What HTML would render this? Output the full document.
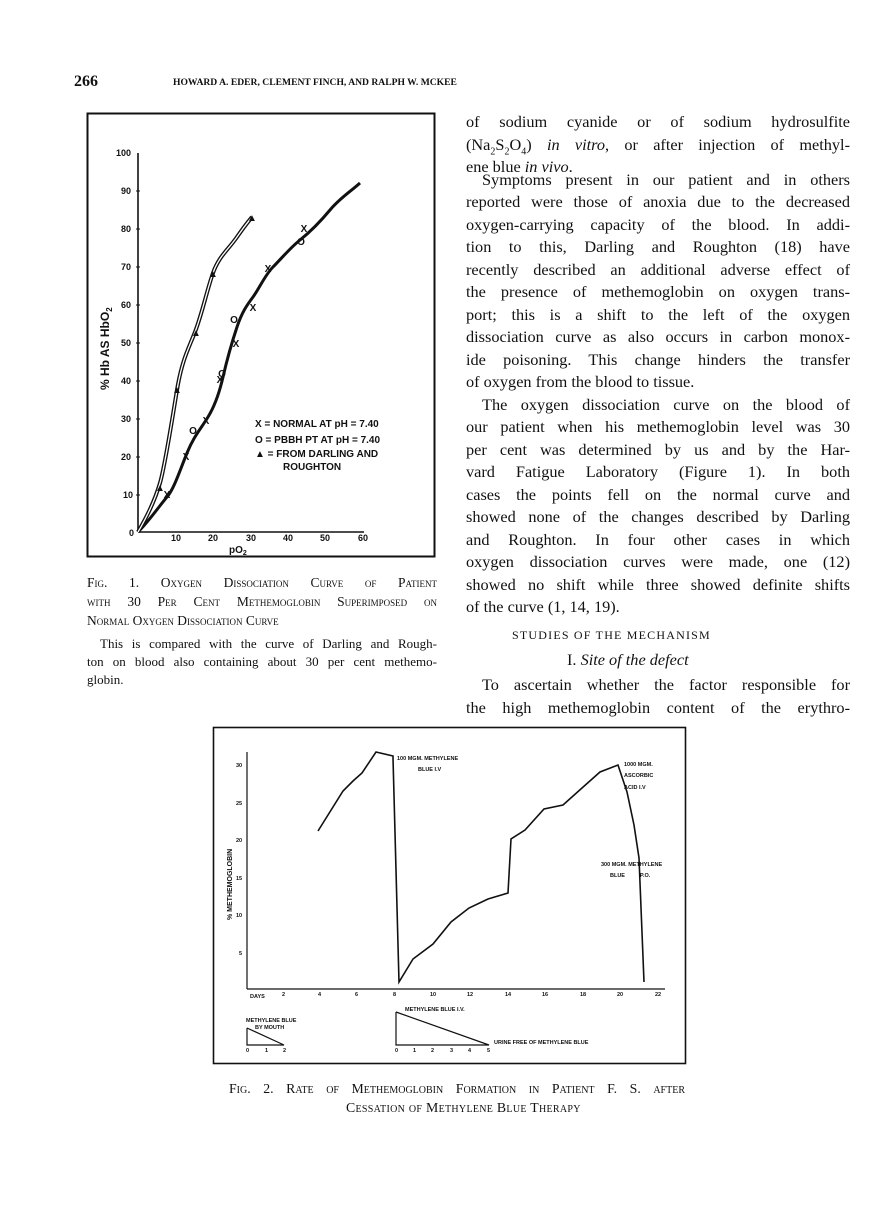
<!DOCTYPE html>
<html><head><meta charset="utf-8"><style>
body{margin:0;background:#fff;}
#p{position:relative;width:880px;height:1219px;background:#fff;overflow:hidden;font-family:"Liberation Serif",serif;color:#111;}
.l{position:absolute;white-space:nowrap;font-size:16.3px;line-height:18px;}
.j{width:384px;text-align:justify;text-align-last:justify;}
.sc{font-variant:small-caps;}
svg{position:absolute;left:0;top:0;}
svg text{font-family:"Liberation Sans",sans-serif;font-weight:bold;fill:#111;}
</style></head><body><div id="p">
<div class="l" style="left:74px;top:73px;font-weight:bold;font-size:16px">266</div>
<div class="l" style="left:173px;top:74px;font-size:9.6px;width:280px;text-align:justify;text-align-last:justify;font-weight:bold">HOWARD A. EDER, CLEMENT FINCH, AND RALPH W. MCKEE</div>

<div class="l j" style="left:466px;top:113px">of sodium cyanide or of sodium hydrosulfite</div>
<div class="l j" style="left:466px;top:136px">(Na<sub style="font-size:10px">2</sub>S<sub style="font-size:10px">2</sub>O<sub style="font-size:10px">4</sub>) <i>in vitro</i>, or after injection of methyl-</div>
<div class="l" style="left:466px;top:158px">ene blue <i>in vivo</i>.</div>
<div class="l j" style="left:482px;top:171px;width:368px">Symptoms present in our patient and in others</div>
<div class="l j" style="left:466px;top:193px">reported were those of anoxia due to the decreased</div>
<div class="l j" style="left:466px;top:216px">oxygen-carrying capacity of the blood. In addi-</div>
<div class="l j" style="left:466px;top:238px">tion to this, Darling and Roughton (18) have</div>
<div class="l j" style="left:466px;top:261px">recently described an additional adverse effect of</div>
<div class="l j" style="left:466px;top:283px">the presence of methemoglobin on oxygen trans-</div>
<div class="l j" style="left:466px;top:306px">port; this is a shift to the left of the oxygen</div>
<div class="l j" style="left:466px;top:328px">dissociation curve as also occurs in carbon monox-</div>
<div class="l j" style="left:466px;top:351px">ide poisoning. This change hinders the transfer</div>
<div class="l" style="left:466px;top:373px">of oxygen from the blood to tissue.</div>
<div class="l j" style="left:482px;top:396px;width:368px">The oxygen dissociation curve on the blood of</div>
<div class="l j" style="left:466px;top:418px">our patient when his methemoglobin level was 30</div>
<div class="l j" style="left:466px;top:441px">per cent was determined by us and by the Har-</div>
<div class="l j" style="left:466px;top:463px">vard Fatigue Laboratory (Figure 1). In both</div>
<div class="l j" style="left:466px;top:486px">cases the points fell on the normal curve and</div>
<div class="l j" style="left:466px;top:508px">showed none of the changes described by Darling</div>
<div class="l j" style="left:466px;top:531px">and Roughton. In four other cases in which</div>
<div class="l j" style="left:466px;top:553px">oxygen dissociation curves were made, one (12)</div>
<div class="l j" style="left:466px;top:576px">showed no shift while three showed definite shifts</div>
<div class="l" style="left:466px;top:598px">of the curve (1, 14, 19).</div>
<div class="l" style="left:512px;top:626px;font-size:12px;letter-spacing:1.2px">STUDIES OF THE MECHANISM</div>
<div class="l" style="left:567px;top:651px">I. <i>Site of the defect</i></div>
<div class="l j" style="left:482px;top:676px;width:368px">To ascertain whether the factor responsible for</div>
<div class="l j" style="left:466px;top:699px">the high methemoglobin content of the erythro-</div>

<div class="l sc" style="left:87px;top:574px;font-size:13.5px;width:350px;text-align:justify;text-align-last:justify">Fig. 1. Oxygen Dissociation Curve of Patient</div>
<div class="l sc" style="left:87px;top:593px;font-size:13.5px;width:350px;text-align:justify;text-align-last:justify">with 30 Per Cent Methemoglobin Superimposed on</div>
<div class="l sc" style="left:87px;top:612px;font-size:13.5px">Normal Oxygen Dissociation Curve</div>
<div class="l" style="left:100px;top:635px;font-size:13px;width:337px;text-align:justify;text-align-last:justify">This is compared with the curve of Darling and Rough-</div>
<div class="l" style="left:87px;top:653px;font-size:13px;width:350px;text-align:justify;text-align-last:justify">ton on blood also containing about 30 per cent methemo-</div>
<div class="l" style="left:87px;top:671px;font-size:13px">globin.</div>

<div class="l sc" style="left:229px;top:1080px;font-size:13.8px;width:456px;text-align:justify;text-align-last:justify">Fig. 2. Rate of Methemoglobin Formation in Patient F. S. after</div>
<div class="l sc" style="left:346px;top:1099px;font-size:13.8px;letter-spacing:0.3px">Cessation of Methylene Blue Therapy</div>

<svg width="880" height="1219" viewBox="0 0 880 1219">
<rect x="87.5" y="113.5" width="347" height="443" fill="none" stroke="#111" stroke-width="2"/>
<line x1="138" y1="532" x2="138" y2="153" stroke="#111" stroke-width="1.6"/>
<line x1="138" y1="532" x2="364" y2="532" stroke="#111" stroke-width="1.6"/>
<g font-size="9">
<text x="116" y="156">100</text><text x="121" y="194">90</text><text x="121" y="232">80</text><text x="121" y="270">70</text><text x="121" y="308">60</text><text x="121" y="346">50</text><text x="121" y="384">40</text><text x="121" y="422">30</text><text x="121" y="460">20</text><text x="123" y="498">10</text><text x="129" y="536">0</text>
<text x="171" y="541">10</text><text x="208" y="541">20</text><text x="246" y="541">30</text><text x="283" y="541">40</text><text x="320" y="541">50</text><text x="358" y="541">60</text>
<text x="229" y="553" font-size="10">pO<tspan font-size="7" dy="2">2</tspan></text>
</g>
<g stroke="#111" stroke-width="1">
<line x1="136" y1="191" x2="140" y2="191"/><line x1="136" y1="229" x2="140" y2="229"/><line x1="136" y1="267" x2="140" y2="267"/><line x1="136" y1="305" x2="140" y2="305"/><line x1="136" y1="343" x2="140" y2="343"/><line x1="136" y1="381" x2="140" y2="381"/><line x1="136" y1="419" x2="140" y2="419"/><line x1="136" y1="457" x2="140" y2="457"/><line x1="136" y1="495" x2="140" y2="495"/>
</g>
<text transform="translate(109,390) rotate(-90)" font-size="12">% Hb AS HbO<tspan font-size="8" dy="3">2</tspan></text>
<path d="M138,532 C150,520 160,505 167,497 S180,470 187,453 S200,430 208,417 S220,390 223,377 S232,342 237,327 S247,305 253,297 S265,275 273,267 S290,248 300,240 S320,222 330,210 S350,192 360,183" fill="none" stroke="#111" stroke-width="3"/>
<path d="M138,532 C148,515 155,500 160,483 S172,420 177,390 S188,350 195,332 S207,290 213,273 S228,250 237,237 S248,222 252,217" fill="none" stroke="#111" stroke-width="4"/>
<path d="M138,532 C148,515 155,500 160,483 S172,420 177,390 S188,350 195,332 S207,290 213,273 S228,250 237,237 S248,222 252,217" fill="none" stroke="#fff" stroke-width="1.3"/>
<g font-size="10" text-anchor="middle">
<text x="167" y="498">X</text><text x="186" y="460">X</text><text x="206" y="424">X</text><text x="220" y="383">X</text><text x="236" y="347">X</text><text x="253" y="311">X</text><text x="268" y="272">X</text><text x="304" y="232">X</text>
<text x="193" y="434">O</text><text x="222" y="377">O</text><text x="234" y="323">O</text><text x="301" y="245">O</text>
<text x="160" y="491">▲</text><text x="177" y="393">▲</text><text x="196" y="336">▲</text><text x="213" y="277">▲</text><text x="252" y="221">▲</text>
</g>
<g font-size="10">
<text x="255" y="427">X =  NORMAL  AT  pH = 7.40</text>
<text x="255" y="443">O =  PBBH  PT  AT pH = 7.40</text>
<text x="255" y="457">▲ =  FROM DARLING AND</text>
<text x="283" y="470">ROUGHTON</text>
</g>

<rect x="213.5" y="727.5" width="472" height="336" fill="none" stroke="#111" stroke-width="1.6"/>
<line x1="247" y1="752" x2="247" y2="989" stroke="#111" stroke-width="1.2"/>
<line x1="247" y1="989" x2="665" y2="989" stroke="#111" stroke-width="1.2"/>
<g font-size="5.5">
<text x="236" y="767">30</text><text x="236" y="805">25</text><text x="236" y="842">20</text><text x="236" y="880">15</text><text x="236" y="917">10</text><text x="239" y="955">5</text>
<text x="250" y="998">DAYS</text><text x="282" y="996">2</text><text x="318" y="996">4</text><text x="355" y="996">6</text><text x="393" y="996">8</text><text x="430" y="996">10</text><text x="467" y="996">12</text><text x="505" y="996">14</text><text x="542" y="996">16</text><text x="580" y="996">18</text><text x="617" y="996">20</text><text x="655" y="996">22</text>
<text x="397" y="760">100 MGM. METHYLENE</text><text x="418" y="771">BLUE I.V</text>
<text x="624" y="766">1000 MGM.</text><text x="624" y="777">ASCORBIC</text><text x="624" y="789">ACID I.V</text>
<text x="601" y="866">300 MGM. METHYLENE</text><text x="610" y="877">BLUE</text><text x="640" y="877">P.O.</text>
<text x="246" y="1022">METHYLENE BLUE</text><text x="255" y="1029">BY MOUTH</text>
<text x="405" y="1011">METHYLENE BLUE I.V.</text>
<text x="494" y="1044">URINE FREE OF METHYLENE BLUE</text>
<text x="246" y="1052">0</text><text x="265" y="1052">1</text><text x="283" y="1052">2</text>
<text x="395" y="1052">0</text><text x="413" y="1052">1</text><text x="431" y="1052">2</text><text x="450" y="1052">3</text><text x="468" y="1052">4</text><text x="487" y="1052">5</text>
</g>
<text transform="translate(232,920) rotate(-90)" font-size="7">% METHEMOGLOBIN</text>
<polyline points="318,831 343,791 353,781 362,773 376,752 393,756 393,758 399,982 413,959 433,944 451,922 469,908 488,899 508,893 511,839 525,830 544,809 563,805 582,788 600,772 618,765 627,792 634,825 639,858 644,982" fill="none" stroke="#111" stroke-width="1.6"/>
<polyline points="247,1028 247,1045 284,1045 247,1028" fill="none" stroke="#111" stroke-width="1.2"/>
<polyline points="396,1012 396,1045 489,1045 396,1012" fill="none" stroke="#111" stroke-width="1.2"/>
</svg>
</div></body></html>
